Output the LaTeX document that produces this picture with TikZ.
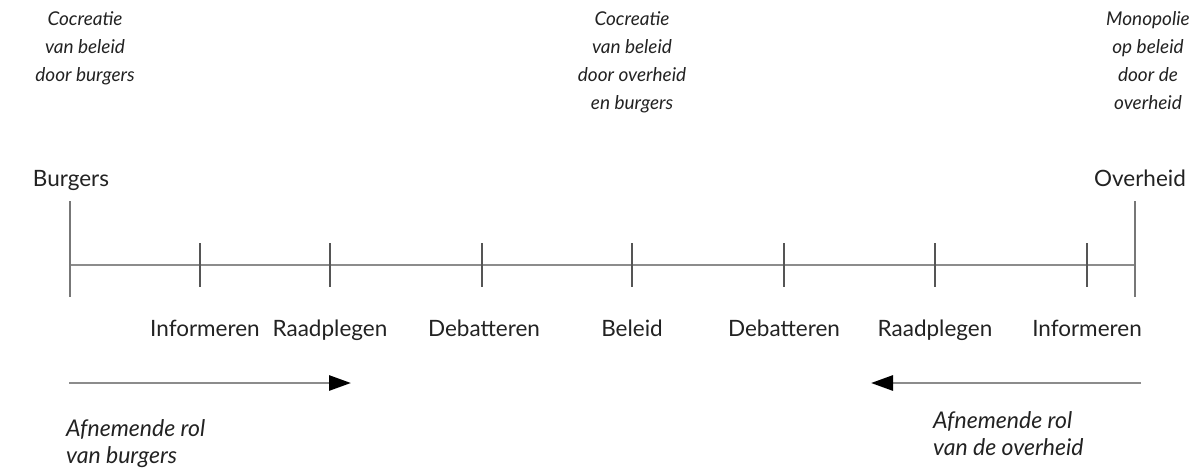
\documentclass[tikz,border=0pt]{standalone}
\usepackage{fontspec}
\setmainfont{Lato}
\usetikzlibrary{arrows.meta}
\definecolor{axisgray}{HTML}{8C8C8C}
\definecolor{tickgray}{HTML}{555555}
\definecolor{txt}{HTML}{222222}
\begin{document}
\begin{tikzpicture}[x=1pt,y=-1pt,
  lbl/.style={inner sep=0pt,text=txt,font=\fontsize{22.5}{28}\selectfont},
  ilbl/.style={inner sep=0pt,text=txt,font=\fontsize{19}{28}\selectfont\itshape,align=center},
  bilbl/.style={inner sep=0pt,text=txt,font=\fontsize{23}{27}\selectfont\itshape,align=left},
  axisline/.style={draw=axisgray,line width=2.8pt},
  endtick/.style={draw=axisgray!85!black,line width=2.4pt},
  tickline/.style={draw=tickgray,line width=1.9pt},
  rolearrow/.style={draw=axisgray,line width=2.8pt,-{Triangle[length=22pt,width=15pt,fill=black,color=black]}}]
\useasboundingbox (0,0) rectangle (1191,472);
% top italic texts
\node[ilbl,anchor=north] (t1) at (85,11) {Cocreatie\\van beleid\\door burgers};
\node[ilbl,anchor=north] (t2) at (632,11) {Cocreatie\\van beleid\\door overheid\\en burgers};
\node[ilbl,anchor=north] (t3) at (1148,11) {Monopolie\\op beleid\\door de\\overheid};
% end labels
\node[lbl,anchor=base] (burgers) at (71,186) {Burgers};
\node[lbl,anchor=base] (overheid) at (1140,186) {Overheid};
% axis
\coordinate (L) at (70,265); \coordinate (R) at (1135,265);
\coordinate (Lt) at (70,201); \coordinate (Lb) at (70,297);
\coordinate (Rt) at (1135,201); \coordinate (Rb) at (1135,297);
\draw[axisline] (L) -- (R);
\draw[endtick] (Lt) -- (Lb);
\draw[endtick] (Rt) -- (Rb);
\foreach \x/\n in {200/a,330/b,482/c,632/d,784/e,935/f,1087/g}{
  \coordinate (\n t) at (\x,243); \coordinate (\n b) at (\x,287);
  \draw[tickline] (\n t) -- (\n b);
}
% stage labels
\node[lbl,anchor=base] (s1) at (205,336) {Informeren};
\node[lbl,anchor=base] (s2) at (330,336) {Raadplegen};
\node[lbl,anchor=base] (s3) at (484,336) {Debatteren};
\node[lbl,anchor=base] (s4) at (632,336) {Beleid};
\node[lbl,anchor=base] (s5) at (784,336) {Debatteren};
\node[lbl,anchor=base] (s6) at (935,336) {Raadplegen};
\node[lbl,anchor=base] (s7) at (1087,336) {Informeren};
% arrows
\coordinate (a1s) at (69,383); \coordinate (a1e) at (351,383);
\coordinate (a2s) at (1141,383); \coordinate (a2e) at (871,383);
\draw[rolearrow] (a1s) -- (a1e);
\draw[rolearrow] (a2s) -- (a2e);
% bottom italic texts
\node[bilbl,anchor=north west] (b1) at (66,419) {Afnemende rol\\van burgers};
\node[bilbl,anchor=north west] (b2) at (933,411) {Afnemende rol\\van de overheid};
\end{tikzpicture}
\end{document}
